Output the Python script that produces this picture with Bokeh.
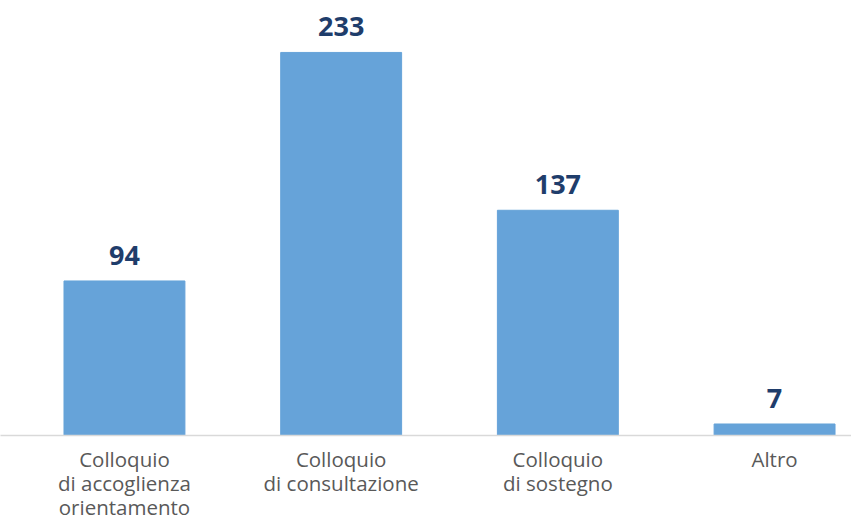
from bokeh.plotting import figure
from bokeh.models import ColumnDataSource, LabelSet, Range1d, FixedTicker
from bokeh.core.properties import value
from bokeh.embed import file_html
from bokeh.resources import INLINE

categories = ["Colloquio\ndi accoglienza\norientamento", "Colloquio\ndi consultazione", "Colloquio\ndi sostegno", "Altro"]
values = [94, 233, 137, 7]

idx = list(range(len(categories)))
src = ColumnDataSource(dict(x=idx, top=values, label=[str(v) for v in values]))

p = figure(frame_width=851, frame_height=435, output_backend="svg", toolbar_location=None,
           x_range=Range1d(-0.572, 3.355), y_range=Range1d(0, 264.6),
           min_border_left=0, min_border_right=0, min_border_top=0, min_border_bottom=0)
p.outline_line_color = None
p.xgrid.visible = False
p.ygrid.visible = False
p.yaxis.visible = False
p.background_fill_color = "white"
p.border_fill_color = "white"

p.vbar(x="x", top="top", bottom=0, width=0.558, color="#66a3d9", source=src)

labels = LabelSet(x="x", y="top", text="label", source=src, y_offset=16,
                  text_align="center", text_baseline="alphabetic",
                  text_font=value("Open Sans"), text_font_style="bold", text_font_size="27px",
                  text_color="#1f3d6b")
p.add_layout(labels)

ax = p.xaxis[0]
ax.ticker = FixedTicker(ticks=idx)
ax.major_label_overrides = {i: c for i, c in zip(idx, categories)}
ax.axis_line_color = "#d9d9d9"
ax.axis_line_width = 1.5
ax.major_tick_line_color = None
ax.minor_tick_line_color = None
ax.major_label_text_font = "Open Sans"
ax.major_label_text_font_size = "20.5px"
ax.major_label_text_color = "#595959"
ax.major_label_standoff = 3
ax.major_label_text_line_height = 0.87

open("out.html", "w").write(file_html(p, INLINE))
